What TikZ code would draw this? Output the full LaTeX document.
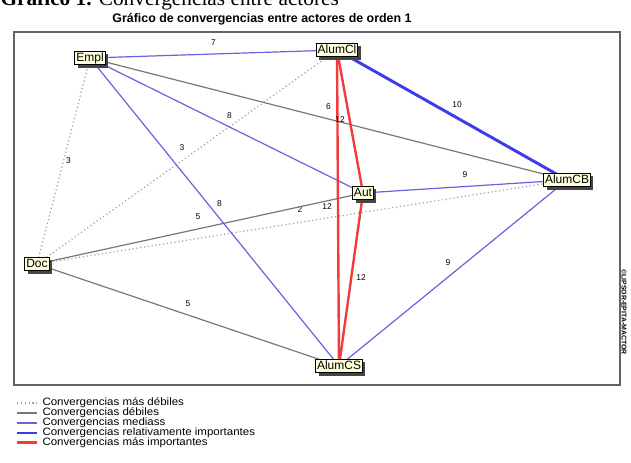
\documentclass[tikz,border=0pt]{standalone}
\usepackage{fontspec}
\setmainfont{Liberation Sans}
\newfontfamily\capfont{Liberation Serif}
\newfontfamily\legfont[FakeStretch=1.08]{Liberation Sans}
\usetikzlibrary{backgrounds,shadows}

\tikzset{every picture/.style={line width=0.75pt}}
\tikzset{
	actor/.style={draw, fill={rgb, 255:red, 255; green, 255; blue, 222 }, inner xsep=1pt, inner ysep=0.8pt, text height=6.6pt, text depth=1.8pt, font=\fontsize{9}{10}\selectfont, drop shadow={shadow xshift=2.2pt, shadow yshift=-2.2pt, fill={rgb, 255:red, 70; green, 70; blue, 70 }, opacity=1}},
	lbl/.style={font=\fontsize{6.3}{7}\selectfont, inner sep=0pt},
	masdebil/.style={draw={rgb, 255:red, 160; green, 160; blue, 160 }, line width=0.9pt, dash pattern=on 0.9pt off 2pt},
	debil/.style={draw={rgb, 255:red, 120; green, 120; blue, 120 }, line width=0.9pt},
	media/.style={draw={rgb, 255:red, 100; green, 100; blue, 225 }, line width=0.9pt},
	relimp/.style={draw={rgb, 255:red, 60; green, 60; blue, 235 }, line width=2.2pt},
	masimp/.style={draw={rgb, 255:red, 240; green, 60; blue, 60 }, line width=1.8pt},
	leyenda/.style={font=\legfont\fontsize{8}{8}\selectfont, anchor=west, inner sep=0pt}
}

\begin{document}
\begin{tikzpicture}[x=0.75pt,y=0.75pt,yscale=-1,xscale=1]
	\useasboundingbox (0,0) rectangle (631,462);

	% Text Node
	\node[anchor=base west, inner sep=0pt, font=\capfont\fontsize{16}{16}\selectfont] (caption) at (0,5) {\textbf{Gráfico 1.} Convergencias entre actores};
	% Text Node
	\node[anchor=base, inner sep=0pt, font=\bfseries\fontsize{9.3}{10}\selectfont] (titulo) at (262,22.5) {Gráfico de convergencias entre actores de orden 1};

	%Shape: Rectangle
	\draw [draw={rgb, 255:red, 100; green, 100; blue, 100 }, line width=1.1pt] (14,32) rectangle (620,385);

	% Actors
	\node[actor] (empl) at (90,58) {Empl};
	\node[actor] (alumcl) at (337,50) {AlumCl};
	\node[actor] (alumcb) at (567,180) {AlumCB};
	\node[actor] (aut) at (363,193) {Aut};
	\node[actor] (doc) at (37,264) {Doc};
	\node[actor] (alumcs) at (339,366) {AlumCS};

	\begin{scope}[on background layer]
		%Convergencias mas debiles
		\draw[masdebil] (empl.center) -- node[lbl, xshift=3.75pt] (c1) {3} (doc.center);
		\draw[masdebil] (doc.center) -- node[lbl, xshift=-3.75pt, yshift=6.75pt] (c2) {3} (alumcl.center);
		\draw[masdebil] (doc.center) -- node[lbl, xshift=-1.5pt, yshift=9pt] (c3) {2} (alumcb.center);
		%Convergencias debiles
		\draw[debil] (empl.center) -- node[lbl, yshift=9pt] (c4) {6} (alumcb.center);
		\draw[debil] (doc.center) -- node[lbl, xshift=-1.5pt, yshift=9pt] (c5) {5} (aut.center);
		\draw[debil] (doc.center) -- node[lbl, yshift=8.25pt] (c6) {5} (alumcs.center);
		%Convergencias medias
		\draw[media] (empl.center) -- node[lbl, yshift=8.25pt] (c7) {7} (alumcl.center);
		\draw[media] (empl.center) -- node[lbl, xshift=2.25pt, yshift=7.5pt] (c8) {8} (aut.center);
		\draw[media] (empl.center) -- node[lbl, xshift=3.75pt, yshift=6pt] (c9) {8} (alumcs.center);
		\draw[media] (aut.center) -- node[lbl, yshift=9pt] (c10) {9} (alumcb.center);
		\draw[media] (alumcb.center) -- node[lbl, xshift=-3.75pt, yshift=7.5pt] (c11) {9} (alumcs.center);
		%Convergencias relativamente importantes
		\draw[relimp] (alumcl.center) -- node[lbl, xshift=3.75pt, yshift=7.5pt] (c12) {10} (alumcb.center);
		%Convergencias mas importantes
		\draw[masimp] (alumcl.center) -- node[lbl, xshift=-8.25pt, yshift=0.75pt] (c14) {12} (alumcs.center);
		\draw[masimp] (alumcl.center) -- node[lbl, xshift=-7.5pt, yshift=1.5pt] (c13) {12} (aut.center);
		\draw[masimp] (aut.center) -- node[lbl, xshift=7.5pt, yshift=1.5pt] (c15) {12} (alumcs.center);
	\end{scope}

	% Text Node
	\node[font=\bfseries\fontsize{5.2}{6}\selectfont, inner sep=0pt, rotate=-90] (marca) at (624,312) {©LIPSOR-EPITA-MACTOR};

	% Legend
	\draw[masdebil] (17,403) -- (37,403);
	\node[leyenda] (ley1) at (42,403) {Convergencias más débiles};
	\draw[debil] (17,413) -- (37,413);
	\node[leyenda] (ley2) at (42,413) {Convergencias débiles};
	\draw[media] (17,423) -- (37,423);
	\node[leyenda] (ley3) at (42,423) {Convergencias mediass};
	\draw[relimp] (17,433) -- (37,433);
	\node[leyenda] (ley4) at (42,433) {Convergencias relativamente importantes};
	\draw[masimp] (17,442.5) -- (37,442.5);
	\node[leyenda] (ley5) at (42,442.5) {Convergencias más importantes};

\end{tikzpicture}
\end{document}
